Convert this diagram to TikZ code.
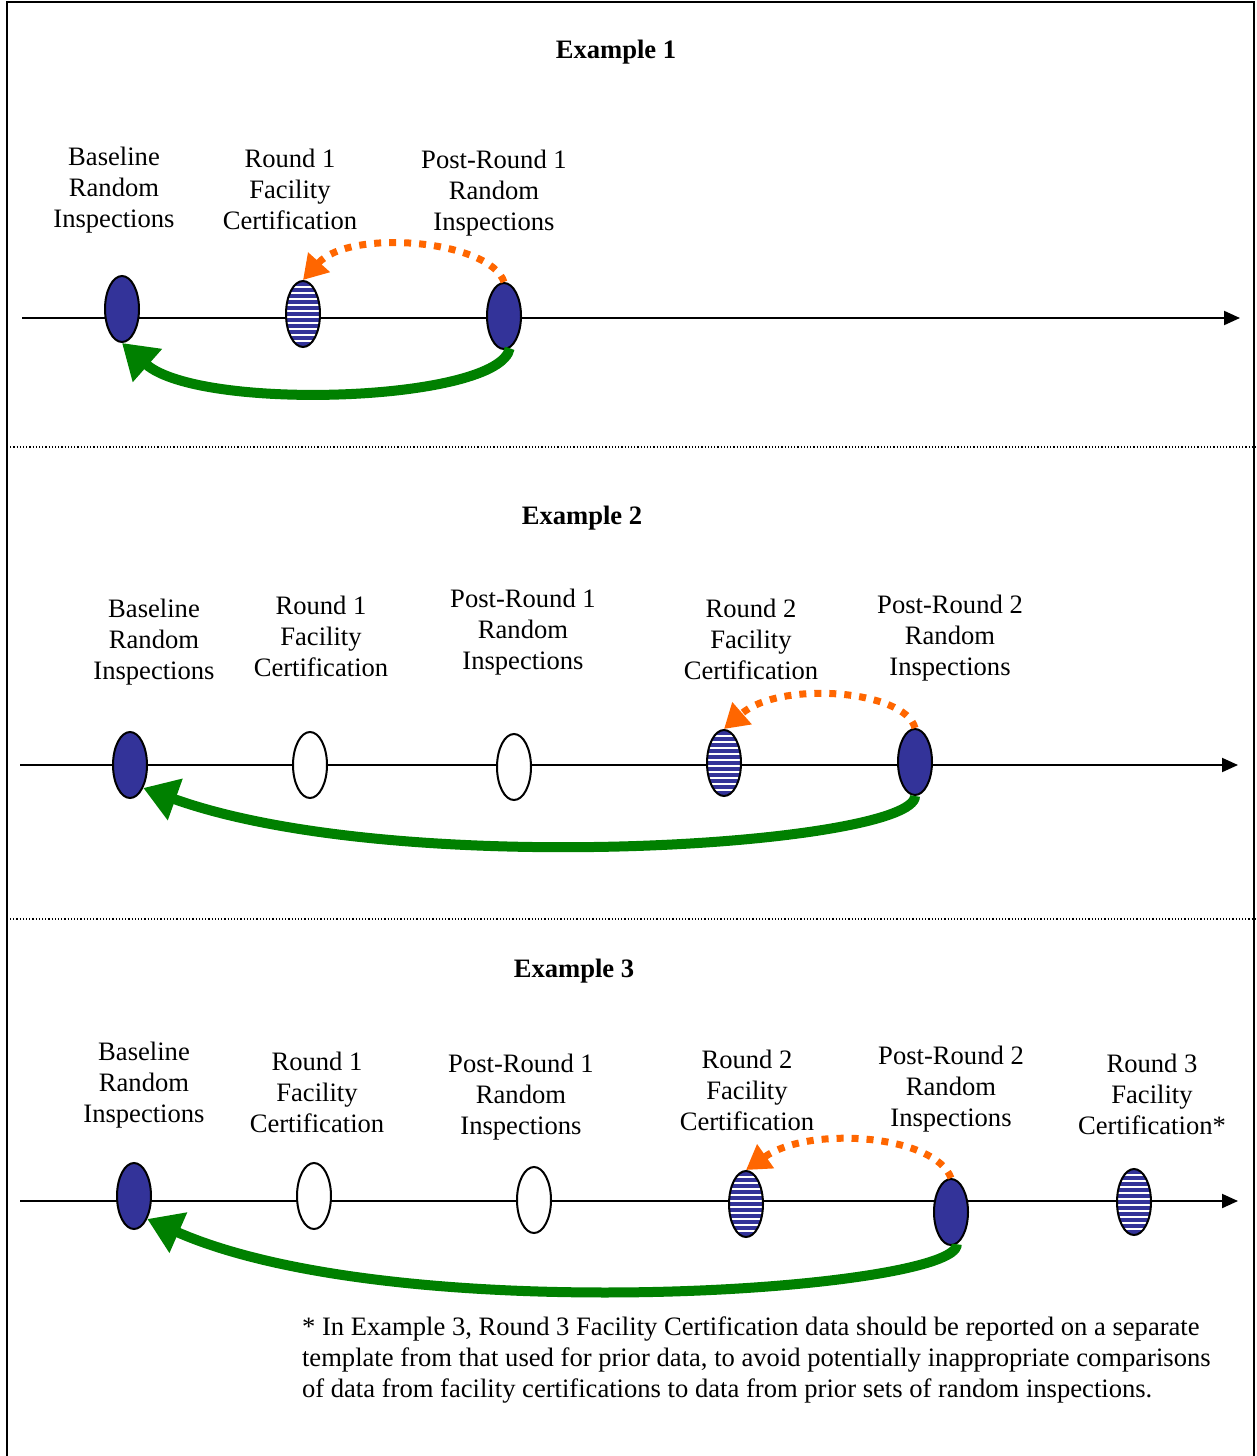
\documentclass[tikz,border=0pt]{standalone}
\usepackage{fontspec}
\setmainfont{Liberation Serif}
\usepackage{tikz}
\usetikzlibrary{arrows.meta, positioning, shapes.geometric}
\definecolor{navyfill}{HTML}{333399}
\definecolor{greenline}{HTML}{008000}
\definecolor{orangeline}{HTML}{FF6600}
\tikzset{
	ovalnode/.style={
			ellipse,
			draw=black,
			line width=1pt,
			minimum width=17pt,
			minimum height=33pt,
			inner sep=0pt
		},
	fillednode/.style={
			ovalnode,
			fill=navyfill
		},
	emptynode/.style={
			ovalnode,
			fill=white
		},
	stripednode/.style={
			ovalnode,
			fill=white,
			path picture={
					\foreach \k in {-6,...,6}
					\draw[navyfill, line width=1.7pt]
					([yshift=\k*3pt]path picture bounding box.west) --
					([yshift=\k*3pt]path picture bounding box.east);
				}
		}
}
\tikzset{
	labeltext/.style={align=center, font=\fontsize{13.3}{15.5}\selectfont},
	titletext/.style={font=\fontsize{13.3}{15.5}\selectfont\bfseries},
	timeline/.style={line width=1pt, -{Triangle[length=8pt,width=7pt]}},
	greenarrow/.style={draw=greenline, line width=5pt,
			-{Triangle[length=17pt,width=21pt]}},
	orangearrow/.style={draw=orangeline, line width=3.5pt,
			dash pattern=on 3.5pt off 4pt,
			-{Triangle[length=12pt,width=14pt]}},
	separator/.style={densely dotted, line width=0.6pt}
}

\begin{document}
\begin{tikzpicture}[x=0.5pt, y=-0.5pt]

	\useasboundingbox (0,0) rectangle (1257,1456);
	\draw[line width=1pt] (7,1456) -- (7,2) -- (1254,2) -- (1254,1456);
	\draw[separator] (7,447) -- (1257,447);
	\draw[separator] (10,919) -- (1257,919);

	% example 1
	\node[titletext] (t1) at (616,52) {Example 1};
	\coordinate (s1) at (22,318);
	\coordinate (f1) at (1240,318);
	\draw[timeline] (s1) -- (f1);

	\node[fillednode]  (e1a) at (122,309) {};
	\node[stripednode] (e1b) at (303,314) {};
	\node[fillednode]  (e1c) at (504,316) {};

	\node[labeltext] (l1a) at (114,190) {Baseline\\Random\\Inspections};
	\node[labeltext] (l1b) at (290,189) {Round 1\\Facility\\Certification};
	\node[labeltext] (l1c) at (494,193) {Post-Round 1\\Random\\Inspections};

	\draw[orangearrow] (e1c.north) .. controls (490,240) and (350,228) .. (e1b.north);
	\draw[greenarrow] (e1c.-80) .. controls (500,402) and (200,412) .. (e1a.south);

	% example 2
	\node[titletext] (t2) at (582,518) {Example 2};
	\coordinate (s2) at (20,765);
	\coordinate (f2) at (1238,765);
	\draw[timeline] (s2) -- (f2);

	\node[fillednode]  (e2a) at (130,765) {};
	\node[emptynode]   (e2b) at (310,765) {};
	\node[emptynode]   (e2c) at (514,767) {};
	\node[stripednode] (e2d) at (724,763) {};
	\node[fillednode]  (e2e) at (915,762) {};

	\node[labeltext] (l2a) at (154,642) {Baseline\\Random\\Inspections};
	\node[labeltext] (l2b) at (321,636) {Round 1\\Facility\\Certification};
	\node[labeltext] (l2c) at (523,632) {Post-Round 1\\Random\\Inspections};
	\node[labeltext] (l2d) at (751,639) {Round 2\\Facility\\Certification};
	\node[labeltext] (l2e) at (950,638) {Post-Round 2\\Random\\Inspections};

	\draw[orangearrow] (e2e.north) .. controls (905,690) and (780,680) .. (e2d.north);
	\draw[greenarrow] (e2e.south) .. controls (915,845) and (400,880) .. (e2a.-60);

	% example 3
	\node[titletext] (t3) at (574,971) {Example 3};
	\coordinate (s3) at (20,1201);
	\coordinate (f3) at (1238,1201);
	\draw[timeline] (s3) -- (f3);

	\node[fillednode]  (e3a) at (134,1196) {};
	\node[emptynode]   (e3b) at (314,1196) {};
	\node[emptynode]   (e3c) at (534,1200) {};
	\node[stripednode] (e3d) at (746,1204) {};
	\node[fillednode]  (e3e) at (951,1212) {};
	\node[stripednode] (e3f) at (1134,1202) {};

	\node[labeltext] (l3a) at (144,1085) {Baseline\\Random\\Inspections};
	\node[labeltext] (l3b) at (317,1092) {Round 1\\Facility\\Certification};
	\node[labeltext] (l3c) at (521,1097) {Post-Round 1\\Random\\Inspections};
	\node[labeltext] (l3d) at (747,1090) {Round 2\\Facility\\Certification};
	\node[labeltext] (l3e) at (951,1089) {Post-Round 2\\Random\\Inspections};
	\node[labeltext] (l3f) at (1152,1094) {Round 3\\Facility\\Certification*};

	\draw[orangearrow] (e3e.north) .. controls (935,1135) and (810,1125) .. (e3d.north);
	\draw[greenarrow] (e3e.-80) .. controls (960,1290) and (400,1330) .. (e3a.-60);

	\node[labeltext, align=left, anchor=north west] (note) at (295,1310)
	{* In Example 3, Round 3 Facility Certification data should be reported on a separate\\
		template from that used for prior data, to avoid potentially inappropriate comparisons\\
		of data from facility certifications to data from prior sets of random inspections.};

\end{tikzpicture}
\end{document}
